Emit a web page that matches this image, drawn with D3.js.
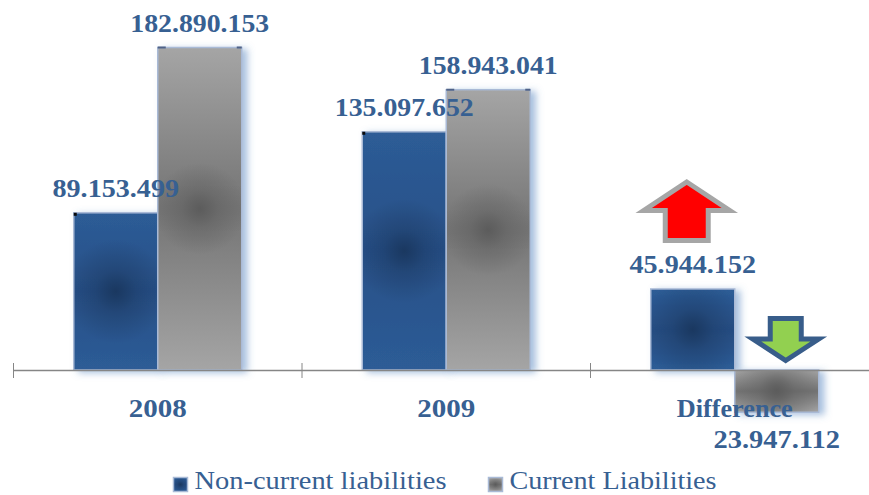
<!DOCTYPE html>
<html><head><meta charset="utf-8">
<script src="https://cdnjs.cloudflare.com/ajax/libs/d3/7.8.5/d3.min.js"></script>
<style>html,body{margin:0;padding:0;background:#fff}svg{display:block}</style>
</head><body><svg id="c" width="869" height="495"></svg>
<script>
const categories = ["2008","2009","Difference"];
const seriesNames = ["Non-current liabilities","Current Liabilities"];
const nonCurrent = [89153499,135097652,45944152];
const current = [182890153,158943041,-23947112];
const labelsNonCurrent = ["89.153.499","135.097.652","45.944.152"];
const labelsCurrent = ["182.890.153","158.943.041","23.947.112"];

const FONT='"Liberation Serif",serif',TXT='#376092';
const svg=d3.select('#c');
const x=d3.scaleBand().domain(categories).range([13.5,879]);
const inner=d3.scalePoint().domain([0,1,2]).range([x.bandwidth()/2-84,x.bandwidth()/2+84]);
const y=d3.scaleLinear().domain([0,182890153]).range([370,47.5]);
const defs=svg.append('defs');
function lin(id,edge,mid){const g=defs.append('linearGradient').attr('id',id).attr('x1',0).attr('y1',0).attr('x2',0).attr('y2',1);
 [[0,edge],[.5,mid],[1,edge]].forEach(s=>g.append('stop').attr('offset',s[0]).attr('stop-color',s[1]));}
lin('lb','#2d5c96','#285088');
lin('lg','#a5a5a5','#747474');
const f=defs.append('filter').attr('id','sh').attr('x','-30%').attr('y','-30%').attr('width','170%').attr('height','170%');
f.append('feDropShadow').attr('dx',5).attr('dy',2).attr('stdDeviation',3.5).attr('flood-color','#4f81bd').attr('flood-opacity',.5);
const dark=['#1a3860','#5c5c5c'], base=['url(#lb)','url(#lg)'];
function glow(id,cx,cy,r,c){const g=defs.append('radialGradient').attr('id',id).attr('gradientUnits','userSpaceOnUse').attr('cx',cx).attr('cy',cy).attr('r',r);
 g.append('stop').attr('offset',0).attr('stop-color',c).attr('stop-opacity',1);
 g.append('stop').attr('offset',.4).attr('stop-color',c).attr('stop-opacity',.45);
 g.append('stop').attr('offset',1).attr('stop-color',c).attr('stop-opacity',0);
 return 'url(#'+id+')';}

const rows=categories.map((c,i)=>({c,i,vals:[nonCurrent[i],current[i]],labs:[labelsNonCurrent[i],labelsCurrent[i]]}));
const BW=84;
rows.forEach(r=>{r.vals.forEach((v,s)=>{
 const bx=x(r.c)+inner(s), by=Math.min(y(v),y(0)), bh=Math.abs(y(v)-y(0));
 svg.append('rect').attr('x',bx).attr('width',BW).attr('y',by).attr('height',bh)
  .attr('fill',base[s]).attr('stroke','#a9bad6').attr('stroke-width',1.5).attr('filter','url(#sh)');
 svg.append('rect').attr('x',bx+.75).attr('width',BW-1.5).attr('y',by+.75).attr('height',bh-1.5)
  .attr('fill',glow('g'+r.i+s,bx+BW/2,by+bh/2,s===0?52:46,dark[s]));
 if(v>0&&r.i<2){
  if(s===0) svg.append('rect').attr('x',bx).attr('y',by).attr('width',3).attr('height',3).attr('fill','#0a0a0a');
  else { svg.append('rect').attr('x',bx).attr('y',by-1).attr('width',8).attr('height',2).attr('fill','#4f6288');
         svg.append('rect').attr('x',bx+BW-5).attr('y',by-1).attr('width',5).attr('height',2).attr('fill','#4f6288'); }
 }
});});
const axis=d3.axisBottom(x).tickSize(0).tickFormat('');
const ag=svg.append('g').attr('transform','translate(0,370.5)').call(axis);
ag.select('.domain').attr('stroke','#868686').attr('stroke-width',1.3).attr('d','M13.5,0H869');
categories.forEach(c=>{const tx=x(c);
 ag.append('line').attr('x1',tx).attr('x2',tx).attr('y1',-7.5).attr('y2',7.5).attr('stroke','#868686').attr('stroke-width',1);});
function label(t,lx,ly,w){svg.append('text').attr('x',lx).attr('y',ly).attr('text-anchor','middle')
  .attr('font-family',FONT).attr('font-weight',700).attr('font-size',26).attr('fill',TXT)
  .attr('textLength',w).attr('lengthAdjust','spacingAndGlyphs').text(t);}
const numW=t=>t.length===11?139:126.5;
rows.forEach(r=>{r.vals.forEach((v,s)=>{
 label(r.labs[s],x(r.c)+inner(s)+BW/2,v>=0?y(v)-16:y(v)+36,numW(r.labs[s]));
});
 label(r.c,x(r.c)+x.bandwidth()/2,417,r.c.length===4?58:116);
});
const cx0=x('Difference')+inner(0)+36, cx1=x('Difference')+inner(1)+51;
const ln=d3.line();
const barTop=y(nonCurrent[2]);
svg.append('path').attr('d',ln([[cx0,barTop-107],[cx0+43,barTop-78.5],[cx0+21.5,barTop-78.5],[cx0+21.5,barTop-48.5],[cx0-21.5,barTop-48.5],[cx0-21.5,barTop-78.5],[cx0-43,barTop-78.5]])+'Z')
 .attr('fill','#ff0000').attr('stroke','#a6a6a6').attr('stroke-width',5).attr('stroke-linejoin','miter');
const b=y(0);
svg.append('path').attr('d',ln([[cx1,b-9.5],[cx1+33,b-31],[cx1+15.5,b-31],[cx1+15.5,b-51.5],[cx1-15.5,b-51.5],[cx1-15.5,b-31],[cx1-33,b-31]])+'Z')
 .attr('fill','#92d050').attr('stroke','#385d8a').attr('stroke-width',5).attr('stroke-linejoin','miter');
const lx=[173,488], lw=[252,207];
seriesNames.forEach((n,i)=>{
 svg.append('rect').attr('x',lx[i]+.5).attr('y',477.5).attr('width',14).attr('height',14).attr('fill',base[i]).attr('stroke','#a9bad6').attr('stroke-width',1.5);
 svg.append('rect').attr('x',lx[i]+1.5).attr('y',478.5).attr('width',12).attr('height',12).attr('fill',glow('lg'+i,lx[i]+7.5,484.5,8,dark[i]));
 svg.append('text').attr('x',lx[i]+21.5).attr('y',489).attr('font-family',FONT).attr('font-size',26).attr('fill',TXT)
  .attr('textLength',lw[i]).attr('lengthAdjust','spacingAndGlyphs').text(n);
});
</script></body></html>
